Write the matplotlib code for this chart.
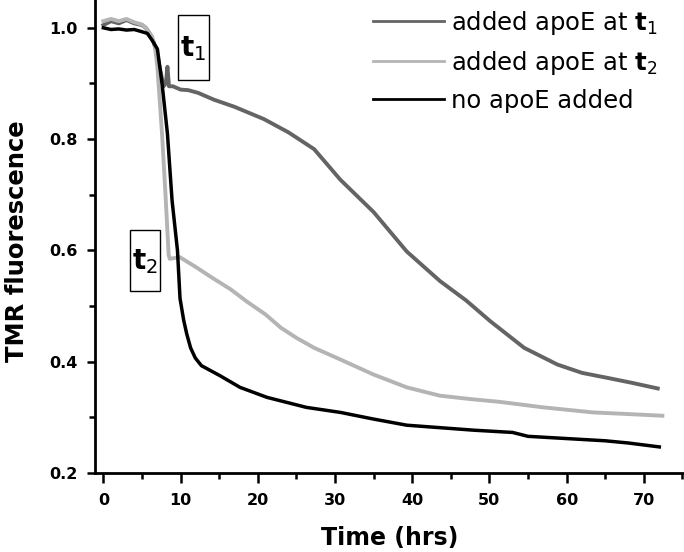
"""
TMR fluorescence decay with and without apoE addition.
"""

import numpy as np
import matplotlib
matplotlib.use("Agg")
import matplotlib.pyplot as plt
from matplotlib.patches import Rectangle

plt.rcParams['font.family'] = ['DejaVu Sans']
plt.rcParams['mathtext.fontset'] = 'dejavusans'

# Readings (time in hrs, fluorescence)
t1_time = [0, 1, 2, 3, 4, 5, 5.5, 6, 6.5, 7, 7.5, 7.8, 8.1, 8.3, 8.5,
           9, 10, 11, 12.3, 14.3, 17, 20.8, 24, 27.3, 30.7, 35, 39.3, 43.6, 47, 50.1,
           54.5, 58.8, 62, 65.3, 68.5, 71.8]
t1_signal = [1.005, 1.012, 1.008, 1.014, 1.008, 1.005, 1.0,
             0.99, 0.975, 0.95, 0.915, 0.895, 0.90, 0.93, 0.895, 0.895, 0.889, 0.888,
             0.883, 0.871, 0.858, 0.836, 0.812, 0.782, 0.727, 0.669, 0.598, 0.545,
             0.51, 0.473, 0.425, 0.395, 0.38, 0.371, 0.362, 0.352]

t2_time = [0, 1, 2, 3, 4, 5, 5.5, 6, 6.3, 6.7, 7.0, 7.6, 8.05,
           8.46, 8.6, 9.9, 12, 14.2, 16.5, 18.6, 21, 23, 25, 27.3, 30.7, 35, 39.3, 43.6,
           47.5, 51.3, 57, 63.4, 68, 72.4]
t2_signal = [1.012, 1.016, 1.012, 1.016, 1.01, 1.006, 1.0,
             0.99, 0.985, 0.965, 0.93, 0.81, 0.70, 0.592, 0.585, 0.588, 0.57, 0.55,
             0.53, 0.508, 0.485, 0.461, 0.443, 0.425, 0.404, 0.377, 0.354, 0.339,
             0.333, 0.328, 0.318, 0.309, 0.306, 0.303]

none_time = [0, 1, 2, 3, 4, 5, 5.7, 6.3, 7.0, 7.6, 8.3, 8.9,
             9.6, 9.93, 10.4, 10.8, 11.3, 11.9, 12.7, 15.1, 17.7, 21.2, 26.3, 30.7, 35,
             39.3, 48, 53, 55, 60, 65, 68, 72]
none_signal = [1.0, 0.997, 0.998, 0.996, 0.997, 0.993, 0.99,
               0.978, 0.962, 0.90, 0.81, 0.69, 0.60, 0.514, 0.475, 0.45, 0.425, 0.407,
               0.393, 0.375, 0.354, 0.336, 0.318, 0.309, 0.297, 0.286, 0.277, 0.273,
               0.266, 0.262, 0.258, 0.254, 0.247]

series_labels = [r'added apoE at $\mathbf{t}_{1}$',
                 r'added apoE at $\mathbf{t}_{2}$',
                 'no apoE added']
series_colors = ['#646464', '#b4b4b4', '#000000']

x_ticks = [0, 10, 20, 30, 40, 50, 60, 70]
y_ticks = [0.2, 0.4, 0.6, 0.8, 1.0]


def plot_fluorescence():
    fig = plt.figure(figsize=(6.84, 5.52), dpi=100)
    ax = fig.add_axes([0.139, 0.143, 0.861, 0.857])

    # Curves
    ax.plot(t1_time, t1_signal, color=series_colors[0], lw=2.8, label=series_labels[0])
    ax.plot(t2_time, t2_signal, color=series_colors[1], lw=2.8, label=series_labels[1])
    ax.plot(none_time, none_signal, color=series_colors[2], lw=2.5, label=series_labels[2])

    # Axes styling
    ax.set_xlim(-1.07, 75.2)
    ax.set_ylim(0.2, 1.05)
    ax.set_xticks(x_ticks)
    ax.set_xticks(np.arange(5, 76, 10), minor=True)
    ax.set_yticks(y_ticks)
    ax.set_yticks([0.3, 0.5, 0.7, 0.9], minor=True)
    ax.set_yticklabels([f"{v:.1f}" for v in y_ticks])
    ax.spines['top'].set_visible(False)
    ax.spines['right'].set_visible(False)
    for side in ['left', 'bottom']:
        ax.spines[side].set_linewidth(2.0)
    ax.tick_params(which='both', direction='out', width=1.8, labelsize=11.5)
    ax.tick_params(axis='x', which='major', length=7, pad=7)
    ax.tick_params(axis='x', which='minor', length=4)
    ax.tick_params(axis='y', which='major', length=5.5, pad=7)
    ax.tick_params(axis='y', which='minor', length=4)
    for lab in ax.get_xticklabels() + ax.get_yticklabels():
        lab.set_fontweight('bold')

    ax.set_xlabel("Time (hrs)", fontsize=17, fontweight='bold', labelpad=13)
    ax.set_ylabel("TMR fluorescence", fontsize=17.5, fontweight='bold')
    ax.yaxis.set_label_coords(-0.113, 0.49)

    # Boxed time markers
    ax.add_patch(Rectangle((9.7, 0.907), 4.0, 0.116, fill=False, ec='black', lw=1.0))
    ax.text(11.6, 0.963, r'$\mathbf{t}_{1}$', fontsize=20, ha='center', va='center')
    ax.add_patch(Rectangle((3.46, 0.527), 3.88, 0.11, fill=False, ec='black', lw=1.0))
    ax.text(5.35, 0.580, r'$\mathbf{t}_{2}$', fontsize=20, ha='center', va='center')

    leg = ax.legend(loc='upper left', bbox_to_anchor=(0.472, 0.982), frameon=False,
                    fontsize=17.5, handlelength=2.9, handletextpad=0.3,
                    labelspacing=0.5, borderaxespad=0.0, borderpad=0.0)
    for line in leg.get_lines():
        line.set_linewidth(2.0)

    fig.savefig("out.png", dpi=100)
    return fig


if __name__ == "__main__":
    plot_fluorescence()
